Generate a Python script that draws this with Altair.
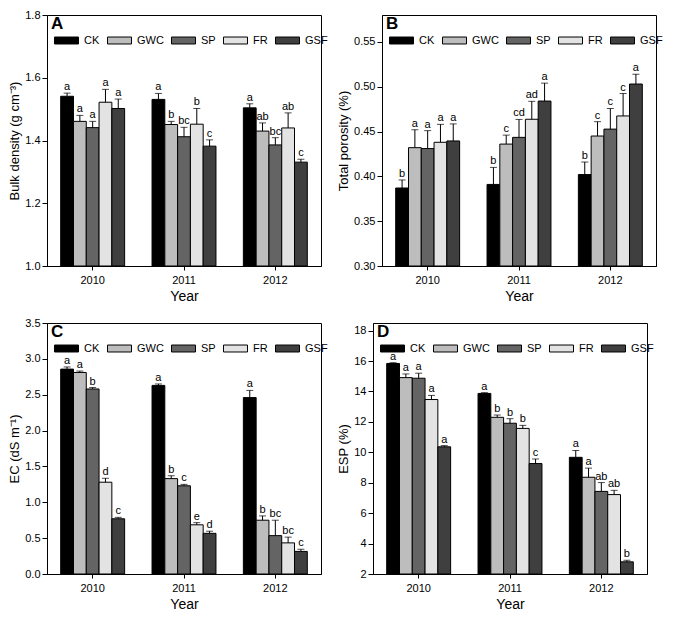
import altair as alt
import pandas as pd

FONT = "Liberation Sans"

years = ["2010", "2011", "2012"]
treatments = ["CK", "GWC", "SP", "FR", "GSF"]
colors = ["#000000", "#bdbdbd", "#646464", "#e3e3e3", "#3f3f3f"]

# Panel A: bulk density
bd_mean = [[1.541, 1.461, 1.441, 1.522, 1.502],
           [1.531, 1.451, 1.412, 1.452, 1.382],
           [1.504, 1.430, 1.386, 1.440, 1.331]]
bd_err = [[0.010, 0.019, 0.020, 0.041, 0.030],
          [0.019, 0.010, 0.030, 0.050, 0.020],
          [0.013, 0.026, 0.023, 0.048, 0.009]]
bd_let = [["a", "a", "a", "a", "a"],
          ["a", "b", "bc", "b", "c"],
          ["a", "ab", "bc", "ab", "c"]]

# Panel B: total porosity
tp_mean = [[0.387, 0.432, 0.431, 0.438, 0.4395],
           [0.391, 0.436, 0.4435, 0.4637, 0.484],
           [0.402, 0.445, 0.4527, 0.4674, 0.503]]
tp_err = [[0.009, 0.020, 0.020, 0.020, 0.019],
          [0.019, 0.010, 0.020, 0.020, 0.020],
          [0.014, 0.016, 0.023, 0.025, 0.011]]
tp_let = [["b", "a", "a", "a", "a"],
          ["b", "c", "cd", "ad", "a"],
          ["b", "c", "c", "c", "a"]]

# Panel C: EC
ec_mean = [[2.857, 2.81, 2.58, 1.28, 0.77],
           [2.63, 1.33, 1.23, 0.686, 0.567],
           [2.46, 0.75, 0.535, 0.434, 0.315]]
ec_err = [[0.03, 0.02, 0.02, 0.055, 0.02],
          [0.02, 0.04, 0.02, 0.03, 0.03],
          [0.10, 0.06, 0.215, 0.08, 0.03]]
ec_let = [["a", "a", "b", "d", "c"],
          ["a", "b", "c", "e", "d"],
          ["a", "b", "bc", "bc", "c"]]

# Panel D: ESP
esp_mean = [[15.84, 14.91, 14.87, 13.47, 10.36],
            [13.87, 12.30, 11.91, 11.57, 9.26],
            [9.67, 8.36, 7.43, 7.22, 2.80]]
esp_err = [[0.05, 0.24, 0.33, 0.27, 0.08],
           [0.05, 0.15, 0.30, 0.20, 0.30],
           [0.45, 0.60, 0.58, 0.28, 0.10]]
esp_let = [["a", "a", "a", "a", "a"],
           ["a", "b", "b", "b", "c"],
           ["a", "a", "ab", "ab", "b"]]

W, H = 274, 251


def panel(mean, err, let, letter, ytitle, dom, ticks, fmt):
    rows = []
    for i, yr in enumerate(years):
        for j, t in enumerate(treatments):
            rows.append({"Year": yr, "Treatment": t, "value": mean[i][j],
                         "upper": mean[i][j] + err[i][j], "letter": let[i][j]})
    df = pd.DataFrame(rows)
    x = alt.X("Year:N", sort=years,
              scale=alt.Scale(paddingInner=0.3, paddingOuter=0.15),
              axis=alt.Axis(title="Year", labelAngle=0, ticks=True, tickSize=4,
                            labelFontSize=11, titleFontSize=14, labelPadding=4,
                            titlePadding=4))
    xo = alt.XOffset("Treatment:N", sort=treatments,
                     scale=alt.Scale(paddingInner=0, paddingOuter=0))
    yscale = alt.Scale(domain=dom, nice=False, zero=False)
    yaxis = alt.Axis(values=ticks, format=fmt, title=ytitle,
                     tickSize=5, labelFontSize=11, titleFontSize=13,
                     titlePadding=3, labelPadding=2, labelOverlap=False)
    base = alt.Chart(df)
    bars = base.mark_bar(stroke="black", strokeWidth=1).encode(
        x=x, xOffset=xo,
        y=alt.Y("value:Q", scale=yscale, axis=yaxis, title=ytitle),
        y2=alt.datum(dom[0]),
        color=alt.Color("Treatment:N", sort=treatments,
                        scale=alt.Scale(domain=treatments, range=colors),
                        legend=alt.Legend(orient="none", legendX=7, legendY=13,
                                          direction="horizontal", title=None,
                                          symbolType="M-1,-0.29L1,-0.29L1,0.29L-1,0.29Z",
                                          symbolSize=576, symbolStrokeColor="black",
                                          symbolStrokeWidth=1, labelFont=FONT,
                                          labelFontSize=11, labelColor="black",
                                          labelOffset=5, columnPadding=5,
                                          padding=0)),
    )
    rule = base.mark_rule(color="black", strokeWidth=1).encode(
        x=x, xOffset=xo, y=alt.Y("value:Q", scale=yscale, axis=yaxis, title=ytitle),
        y2="upper:Q")
    cap = base.mark_tick(color="black", thickness=1, size=7,
                         orient="horizontal").encode(
        x=x, xOffset=xo, y=alt.Y("upper:Q", scale=yscale, axis=yaxis, title=ytitle))
    txt = base.mark_text(baseline="bottom", dy=-1, fontSize=11, font=FONT,
                         color="black").encode(
        x=x, xOffset=xo, y=alt.Y("upper:Q", scale=yscale, axis=yaxis, title=ytitle),
        text="letter:N")
    lab = alt.Chart(pd.DataFrame({"t": [letter]})).mark_text(
        align="left", baseline="middle", fontSize=17, fontWeight="bold",
        font=FONT, color="black").encode(
        x=alt.value(4), y=alt.value(9), text="t:N")
    return alt.layer(bars, rule, cap, txt, lab).properties(width=W, height=H)


pA = panel(bd_mean, bd_err, bd_let, "A", "Bulk density (g cm\u207b\u00b3)",
           [1.0, 1.8], [1.0, 1.2, 1.4, 1.6, 1.8], ".1f")
pB = panel(tp_mean, tp_err, tp_let, "B", "Total porosity (%)",
           [0.30, 0.58], [0.30, 0.35, 0.40, 0.45, 0.50, 0.55], ".2f")
pC = panel(ec_mean, ec_err, ec_let, "C", "EC (dS m\u207b\u00b9)",
           [0.0, 3.5], [0.0, 0.5, 1.0, 1.5, 2.0, 2.5, 3.0, 3.5], ".1f")
pD = panel(esp_mean, esp_err, esp_let, "D", "ESP (%)",
           [2, 18.5], [2, 4, 6, 8, 10, 12, 14, 16, 18], "d")

row1 = alt.hconcat(pA, pB, spacing=8).resolve_scale(color="independent").resolve_legend(color="independent")
row2 = alt.hconcat(pC, pD, spacing=8).resolve_scale(color="independent").resolve_legend(color="independent")
chart = alt.vconcat(row1, row2, spacing=12).resolve_scale(color="independent").resolve_legend(color="independent")

chart = chart.properties(padding=0).configure_view(
    stroke="black", strokeWidth=1
).configure_axis(
    grid=False, domainColor="black", tickColor="black", labelColor="black",
    titleColor="black", labelFont=FONT, titleFont=FONT, titleFontWeight="normal"
)

chart.save("out.html", embed_options={"renderer": "svg", "actions": False})
